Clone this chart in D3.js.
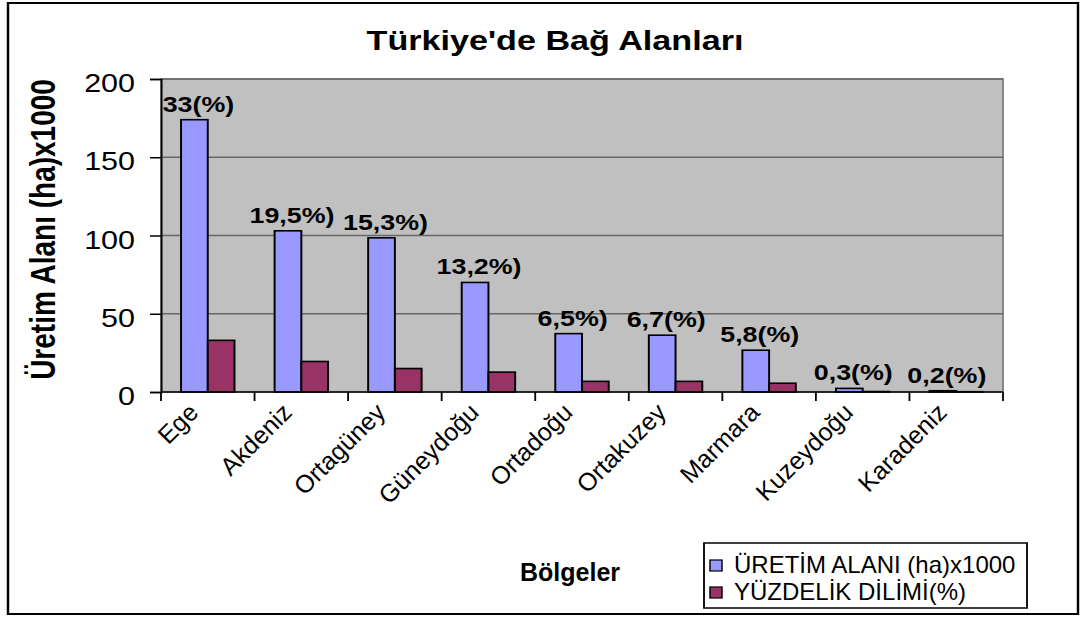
<!DOCTYPE html>
<html>
<head>
<meta charset="utf-8">
<script src="https://cdn.jsdelivr.net/npm/d3@7"></script>
<style>
  body { margin: 0; background: #fff; }
  svg { display: block; font-family: "Liberation Sans", Arial, sans-serif; }
</style>
</head>
<body>
<div id="chart"></div>
<script>
const regions = ['Ege', 'Akdeniz', 'Ortagüney', 'Güneydoğu', 'Ortadoğu', 'Ortakuzey', 'Marmara', 'Kuzeydoğu', 'Karadeniz'];
const areaValues = [174, 103, 98.5, 70, 37.3, 36.3, 26.7, 2.3, 0.8];
const shareValues = [33, 19.5, 15, 12.7, 6.8, 6.8, 5.6, 0.3, 0.2];
const shareLabels = ['33(%)', '19,5%)', '15,3%)', '13,2%)', '6,5%)', '6,7(%)', '5,8(%)', '0,3(%)', '0,2(%)'];
const seriesNames = ['ÜRETİM ALANI (ha)x1000', 'YÜZDELİK DİLİMİ(%)'];
const seriesColors = ['#9999ff', '#993366'];
const yTicks = [0, 50, 100, 150, 200];

// the original picture is stretched sideways, so draw narrow and stretch
const S = 1.22;
const vx = px => px / S;
const W = 1085 / S, H = 617;
// undo the stretch for text that is not widened in the original
const flat = (px, py) => `translate(${vx(px)},${py}) scale(${1 / S},1)`;

const svg = d3.select('#chart').append('svg')
    .attr('width', 1085).attr('height', H)
    .attr('viewBox', `0 0 ${W} ${H}`)
    .attr('preserveAspectRatio', 'none');

// chart border
svg.append('rect')
    .attr('x', vx(8)).attr('y', 3).attr('width', vx(1078) - vx(8)).attr('height', 611)
    .attr('fill', '#fff').attr('stroke', '#000').attr('stroke-width', 2);

const plot = { left: vx(161), right: vx(1003), top: 79, bottom: 392 };

const x = d3.scaleBand().domain(regions).range([plot.left, plot.right]).padding(0);
const x1 = d3.scaleBand().domain([0, 1]).range([0, x.bandwidth()]).paddingInner(0).paddingOuter(0.75);
const y = d3.scaleLinear().domain([0, 200]).range([plot.bottom, plot.top]);

// plot background
svg.append('rect')
    .attr('x', plot.left).attr('y', plot.top)
    .attr('width', plot.right - plot.left).attr('height', plot.bottom - plot.top)
    .attr('fill', '#c0c0c0').attr('stroke', '#808080').attr('stroke-width', 1.5);

// Grid
svg.append('g')
    .selectAll('line')
    .data(yTicks.filter(d => d > 0))
    .enter().append('line')
    .attr('x1', plot.left).attr('x2', plot.right)
    .attr('y1', d => y(d)).attr('y2', d => y(d))
    .attr('stroke', '#666').attr('stroke-width', 1.5);

// Bars
const series = [areaValues, shareValues];
series.forEach((vals, s) => {
    svg.append('g')
        .selectAll('rect')
        .data(regions)
        .enter().append('rect')
        .attr('x', d => x(d) + x1(s))
        .attr('y', (d, i) => y(vals[i]))
        .attr('width', x1.bandwidth())
        .attr('height', (d, i) => y(0) - y(vals[i]))
        .attr('fill', seriesColors[s])
        .attr('stroke', '#000').attr('stroke-width', 1.6);
});

// Y axis
const yAxis = svg.append('g')
    .attr('transform', `translate(${plot.left},0)`)
    .call(d3.axisLeft(y).tickValues(yTicks).tickSize(vx(11)).tickPadding(vx(15)));
yAxis.select('.domain').attr('stroke', '#000').attr('stroke-width', 1.5);
yAxis.selectAll('.tick line').attr('stroke', '#000').attr('stroke-width', 1.5);
yAxis.selectAll('.tick text')
    .attr('font-size', 25).attr('fill', '#000')
    .attr('font-family', '"Liberation Sans", Arial, sans-serif')
    .attr('dy', '0.5em');

// X axis line + boundary ticks
svg.append('line')
    .attr('x1', plot.left).attr('x2', plot.right)
    .attr('y1', y(0)).attr('y2', y(0))
    .attr('stroke', '#000').attr('stroke-width', 1.5);
svg.append('g')
    .selectAll('line')
    .data(regions.concat([null]))
    .enter().append('line')
    .attr('x1', d => d === null ? plot.right : x(d))
    .attr('x2', d => d === null ? plot.right : x(d))
    .attr('y1', y(0)).attr('y2', y(0) + 9)
    .attr('stroke', '#000').attr('stroke-width', 1.5);

// Category labels, 45 degrees on screen
svg.append('g')
    .selectAll('text')
    .data(regions)
    .enter().append('text')
    .attr('transform', d => `${flat((x(d) + x.bandwidth() / 2) * S - 8, y(0) + 22)} rotate(-45)`)
    .attr('text-anchor', 'end')
    .attr('font-size', 25)
    .attr('fill', '#000')
    .text(d => d);

// Value labels on the first series
svg.append('g')
    .selectAll('text')
    .data(regions)
    .enter().append('text')
    .attr('x', d => x(d) + x1(0) + x1.bandwidth() / 2 + vx(4))
    .attr('y', (d, i) => y(areaValues[i]) - 8)
    .attr('text-anchor', 'middle')
    .attr('font-size', 22).attr('font-weight', 'bold')
    .attr('fill', '#000')
    .text((d, i) => shareLabels[i]);

// Title
svg.append('text')
    .attr('x', vx(555)).attr('y', 50)
    .attr('text-anchor', 'middle')
    .attr('font-size', 28).attr('font-weight', 'bold')
    .text("Türkiye'de Bağ Alanları");

// Axis titles
svg.append('text')
    .attr('transform', `translate(${vx(55)},${(plot.top + plot.bottom) / 2 - 6}) rotate(-90)`)
    .attr('text-anchor', 'middle')
    .attr('font-size', 28).attr('font-weight', 'bold')
    .text('Üretim Alanı (ha)x1000');

svg.append('text')
    .attr('transform', flat(570, 581))
    .attr('text-anchor', 'middle')
    .attr('font-size', 25).attr('font-weight', 'bold')
    .text('Bölgeler');

// Legend
const legend = svg.append('g');
legend.append('rect')
    .attr('x', vx(704)).attr('y', 543)
    .attr('width', vx(1027) - vx(704)).attr('height', 65)
    .attr('fill', '#fff').attr('stroke', '#000').attr('stroke-width', 1.5);
const rows = legend.selectAll('g.row')
    .data(seriesNames)
    .enter().append('g')
    .attr('class', 'row');
rows.append('rect')
    .attr('x', vx(710)).attr('y', (d, i) => 560 + i * 27)
    .attr('width', vx(12)).attr('height', 11)
    .attr('fill', (d, i) => seriesColors[i])
    .attr('stroke', '#000').attr('stroke-width', 1.2);
rows.append('text')
    .attr('transform', (d, i) => flat(734, 573 + i * 27))
    .attr('font-size', 24)
    .text(d => d);
</script>
</body>
</html>
